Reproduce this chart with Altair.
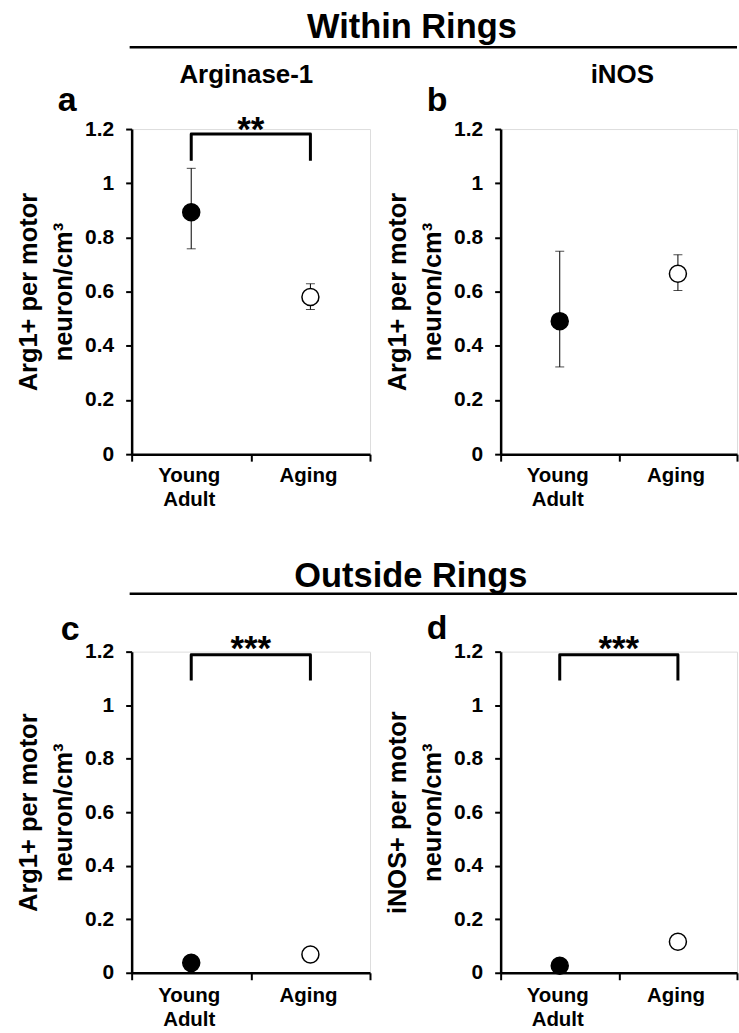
import json
import altair as alt
import pandas as pd

FONT = "Liberation Sans"

# ---------------- data ----------------
groups = ["Young Adult", "Aging"]
group_labels = ["Young\nAdult", "Aging"]

# (a) Arginase-1, within rings
arg_within_mean = [0.893, 0.580]
arg_within_low = [0.758, 0.534]
arg_within_high = [1.055, 0.629]

# (b) iNOS, within rings
inos_within_mean = [0.491, 0.666]
inos_within_low = [0.322, 0.604]
inos_within_high = [0.749, 0.736]

# (c) Arginase-1, outside rings ; (d) iNOS, outside rings
arg_outside_mean = [0.037, 0.068]
inos_outside_mean = [0.026, 0.116]

y_ticks = [0, 0.2, 0.4, 0.6, 0.8, 1.0, 1.2]
x_edges = [0, 1, 2]

section_titles = ["Within Rings", "Outside Rings"]
marker_titles = ["Arginase-1", "iNOS"]
panel_letters = ["a", "b", "c", "d"]
y_title_arg = ["Arg1+ per motor", "neuron/cm\u00b3"]
y_title_inos = ["iNOS+ per motor", "neuron/cm\u00b3"]

# significance annotations: label, bracket leg bottom, bracket top, label baseline
sig_a = ["**", 1.083, 1.182, 1.157]
sig_c = ["***", 1.092, 1.188, 1.170]
sig_d = ["***", 1.092, 1.188, 1.170]

G = json.dumps(groups)
POS = f"indexof({G}, datum.group) + 0.5"


def text_layer(text, x, y, size, align="center"):
    return alt.Chart(pd.DataFrame({"t": [text]})).mark_text(
        font=FONT, fontSize=size, fontWeight="bold", color="black",
        align=align, baseline="alphabetic"
    ).encode(text="t:N", x=alt.value(x), y=alt.value(y))


def rule_layer(x1, x2, y):
    return alt.Chart(pd.DataFrame({"t": [0]})).mark_rule(
        color="black", strokeWidth=2.5
    ).encode(x=alt.value(x1), x2=alt.value(x2), y=alt.value(y))


def panel(mean, low, high, y_title, w, h, label_dy, sig=None, extra=()):
    xs = alt.Scale(domain=[0, 2], nice=False, zero=False)
    ys = alt.Scale(domain=[0, 1.2], nice=False, zero=True)
    x_axis = alt.Axis(values=x_edges, labels=False, title=None, grid=False,
                      tickSize=7, tickWidth=2, tickColor="black",
                      domainColor="black", domainWidth=2.5)
    y_axis = alt.Axis(values=y_ticks, labelExpr="format(datum.value, '.1~f')",
                      grid=False, title=y_title, titleFont=FONT, titleFontSize=25.5,
                      titleFontWeight="bold", titleColor="black", titleLineHeight=35,
                      titlePadding=8, labelFont=FONT, labelFontSize=21,
                      labelFontWeight="bold", labelColor="black", labelPadding=12,
                      tickSize=6, tickWidth=2, tickColor="black",
                      domainColor="black", domainWidth=2.5)

    def X(f="pos"):
        return alt.X(f"{f}:Q", scale=xs, axis=x_axis)

    def Y(f):
        return alt.Y(f"{f}:Q", scale=ys, axis=y_axis)

    data = {"group": groups, "label": group_labels, "mean": mean}
    if low is not None:
        data["low"] = low
        data["high"] = high
    base = alt.Chart(pd.DataFrame(data)).transform_calculate(pos=POS)

    layers = []
    if low is not None:
        layers.append(base.mark_rule(color="black", strokeWidth=1).encode(
            x=X(), y=Y("low"), y2="high:Q"))
        layers.append(base.transform_fold(["low", "high"], as_=["which", "val"]).mark_tick(
            orient="horizontal", size=9, thickness=1, color="black").encode(
            x=X(), y=Y("val")))
    layers.append(base.mark_circle(size=290, stroke="black", strokeWidth=1.5, opacity=1).encode(
        x=X(), y=Y("mean"),
        fill=alt.Fill("group:N", scale=alt.Scale(domain=groups, range=["black", "white"]),
                      legend=None)))
    layers.append(base.mark_text(font=FONT, fontSize=20.5, fontWeight="bold", color="black",
                                 align="center", baseline="alphabetic", lineBreak="\n",
                                 lineHeight=24, dx=-2).encode(
        x=X(), y=alt.value(h + label_dy), text="label:N"))

    if sig is not None:
        label, leg, top, ty = sig
        bdf = pd.DataFrame({"group": [groups[0], groups[0], groups[1], groups[1]],
                            "y": [leg, top, top, leg], "o": [0, 1, 2, 3]})
        layers.append(alt.Chart(bdf).transform_calculate(pos=POS).mark_line(
            color="black", strokeWidth=3, strokeJoin="round").encode(
            x=X(), y=Y("y"), order="o:Q"))
        sdf = pd.DataFrame({"t": [label], "y": [ty]})
        layers.append(alt.Chart(sdf).transform_calculate(
            pos=f"(indexof({G}, '{groups[0]}') + indexof({G}, '{groups[1]}')) / 2 + 0.5"
        ).mark_text(font=FONT, fontSize=35, fontWeight="bold", color="black",
                    align="center", baseline="alphabetic").encode(
            x=X(), y=Y("y"), text="t:N"))

    layers.extend(extra)
    return alt.layer(*layers).properties(width=w, height=h)


pa = panel(arg_within_mean, arg_within_low, arg_within_high, y_title_arg, 239, 326, 28, sig_a,
           extra=[text_layer(section_titles[0], 281, -91, 34.5),
                  rule_layer(-2, 607, -82),
                  text_layer(marker_titles[0], 115, -46, 26),
                  text_layer(panel_letters[0], -74, -18, 34, "left")])
pb = panel(inos_within_mean, inos_within_low, inos_within_high, y_title_arg, 237, 326, 28, None,
           extra=[text_layer(marker_titles[1], 122, -46, 26),
                  text_layer(panel_letters[1], -74, -18, 34, "left")])
pc = panel(arg_outside_mean, None, None, y_title_arg, 239, 322, 29, sig_c,
           extra=[text_layer(section_titles[1], 280, -65, 34.5),
                  rule_layer(-2, 607, -58),
                  text_layer(panel_letters[2], -71, -12, 34, "left")])
pd_ = panel(inos_outside_mean, None, None, y_title_inos, 237, 322, 29, sig_d,
            extra=[text_layer(panel_letters[3], -74, -13, 34, "left")])

chart = alt.concat(pa, pb, pc, pd_, columns=2, spacing={"row": 198, "column": 131},
                   bounds="flush").properties(
    padding={"left": 16, "top": 8, "right": 0, "bottom": 0},
    background="white",
).configure_view(stroke=None).configure(font=FONT)

chart.save("out.html", embed_options={"renderer": "svg", "actions": False})
